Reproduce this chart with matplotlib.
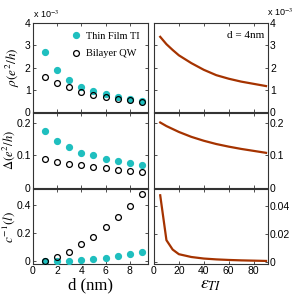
import matplotlib
matplotlib.use('Agg')
import matplotlib.pyplot as plt

plt.rcParams['mathtext.fontset'] = 'stix'
plt.rcParams['font.family'] = ['Liberation Sans', 'DejaVu Sans']

# data
d = [1, 2, 3, 4, 5, 6, 7, 8, 9]
rho_tf = [2.69, 1.89, 1.44, 1.14, 0.96, 0.80, 0.69, 0.58, 0.51]   # x 1e-3
rho_bl = [1.59, 1.32, 1.11, 0.91, 0.76, 0.66, 0.60, 0.53, 0.46]   # x 1e-3
gap_tf = [0.175, 0.145, 0.126, 0.109, 0.101, 0.090, 0.082, 0.076, 0.071]
gap_bl = [0.089, 0.081, 0.075, 0.071, 0.065, 0.060, 0.056, 0.053, 0.050]
c_tf = [0.0, 0.0, 0.002, 0.007, 0.014, 0.026, 0.035, 0.052, 0.064]
c_bl = [0.002, 0.030, 0.066, 0.118, 0.172, 0.243, 0.310, 0.390, 0.475]

eps = [5, 10, 15, 20, 30, 40, 50, 60, 70, 80, 90]
rho_eps = [3.38, 3.05, 2.79, 2.55, 2.20, 1.90, 1.66, 1.50, 1.37, 1.27, 1.17]   # x 1e-3
gap_eps = [0.201, 0.190, 0.181, 0.172, 0.157, 0.145, 0.135, 0.127, 0.120, 0.114, 0.108]
c_eps = [0.0475, 0.0155, 0.0088, 0.0055, 0.0035, 0.0024, 0.0018, 0.0014, 0.0011, 0.0009, 0.0007]

teal = '#1fbfbf'
brown = '#a53300'
spine = '#333333'

fig = plt.figure(figsize=(2.99, 2.99), dpi=100)

lefts = [0.110, 0.515]
widths = [0.385, 0.381]
rows = [(0.625, 0.298), (0.371, 0.251), (0.117, 0.251)]

axs = []
for (b, h) in rows:
    row = []
    for l, w in zip(lefts, widths):
        ax = fig.add_axes([l, b, w, h])
        for s in ax.spines.values():
            s.set_color(spine)
            s.set_linewidth(0.8)
        ax.tick_params(direction='in', length=2.5, width=0.6, labelsize=7.5,
                       top=True, right=True, colors=spine, labelcolor='black', pad=1.5)
        row.append(ax)
    axs.append(row)

# left column
ms = 4.2
ax = axs[0][0]
ax.plot(d, rho_tf, 'o', color=teal, markersize=ms, label='Thin Film TI', zorder=3)
ax.plot(d, rho_bl, 'o', mfc='none', mec='black', mew=0.9, markersize=ms, label='Bilayer QW', zorder=4)
ax.set_ylim(0, 4)
ax.set_yticks([0, 1, 2, 3, 4])
ax.set_ylabel(r'$\rho(e^2/h)$', fontsize=9.5)
ax.yaxis.set_label_coords(-0.095, 0.5)
ax.legend(loc='upper right', frameon=False, prop={'family': 'Liberation Serif', 'size': 7.5},
          handletextpad=0.4, borderaxespad=0.4, labelspacing=0.8, handlelength=1.2)
ax.text(0.0, 1.03, r'x 10$^{-3}$', transform=ax.transAxes, fontsize=6.5, ha='left', va='bottom')

ax = axs[1][0]
ax.plot(d, gap_tf, 'o', color=teal, markersize=ms, zorder=3)
ax.plot(d, gap_bl, 'o', mfc='none', mec='black', mew=0.9, markersize=ms, zorder=4)
ax.set_ylim(0, 0.23)
ax.set_yticks([0, 0.1, 0.2])
ax.set_yticklabels(['0', '0.1', '0.2'])
ax.set_ylabel(r'$\Delta(e^2/h)$', fontsize=9)
ax.yaxis.set_label_coords(-0.135, 0.5)

ax = axs[2][0]
ax.plot(d, c_tf, 'o', color=teal, markersize=ms, zorder=3)
ax.plot(d, c_bl, 'o', mfc='none', mec='black', mew=0.9, markersize=ms, zorder=4)
ax.set_ylim(-0.02, 0.51)
ax.set_yticks([0, 0.2, 0.4])
ax.set_yticklabels(['0', '0.2', '0.4'])
ax.set_ylabel(r'$c^{-1}(l)$', fontsize=9.5)
ax.yaxis.set_label_coords(-0.135, 0.5)
ax.set_xlabel('d (nm)', fontsize=12, family='Liberation Serif', labelpad=1)

for r in range(3):
    axs[r][0].set_xlim(0, 9.5)
    axs[r][0].set_xticks([0, 2, 4, 6, 8])
    if r < 2:
        axs[r][0].tick_params(labelbottom=False)

# right column
ax = axs[0][1]
ax.plot(eps, rho_eps, '-', color=brown, lw=1.6)
ax.set_ylim(0, 4)
ax.set_yticks([0, 1, 2, 3, 4])
ax.text(0.97, 0.86, 'd = 4nm', transform=ax.transAxes, ha='right', va='center',
        fontsize=8, family='Liberation Serif')
ax.text(0.99, 1.06, r'x 10$^{-3}$', transform=ax.transAxes, fontsize=6.5, ha='left', va='bottom')

ax = axs[1][1]
ax.plot(eps, gap_eps, '-', color=brown, lw=1.6)
ax.set_ylim(0, 0.23)
ax.set_yticks([0, 0.1, 0.2])
ax.set_yticklabels(['0', '0.1', '0.2'])

ax = axs[2][1]
ax.plot(eps, c_eps, '-', color=brown, lw=1.6)
ax.set_ylim(-0.0015, 0.052)
ax.set_yticks([0, 0.02, 0.04])
ax.set_yticklabels(['0', '0.02', '0.04'])
ax.set_xlabel(r'$\varepsilon_{TI}$', fontsize=13, labelpad=0)

for r in range(3):
    a = axs[r][1]
    a.set_xlim(0, 91.5)
    a.set_xticks([0, 20, 40, 60, 80])
    a.tick_params(labelleft=False, labelright=True)
    if r < 2:
        a.tick_params(labelbottom=False)

fig.savefig('out.png', dpi=100)
